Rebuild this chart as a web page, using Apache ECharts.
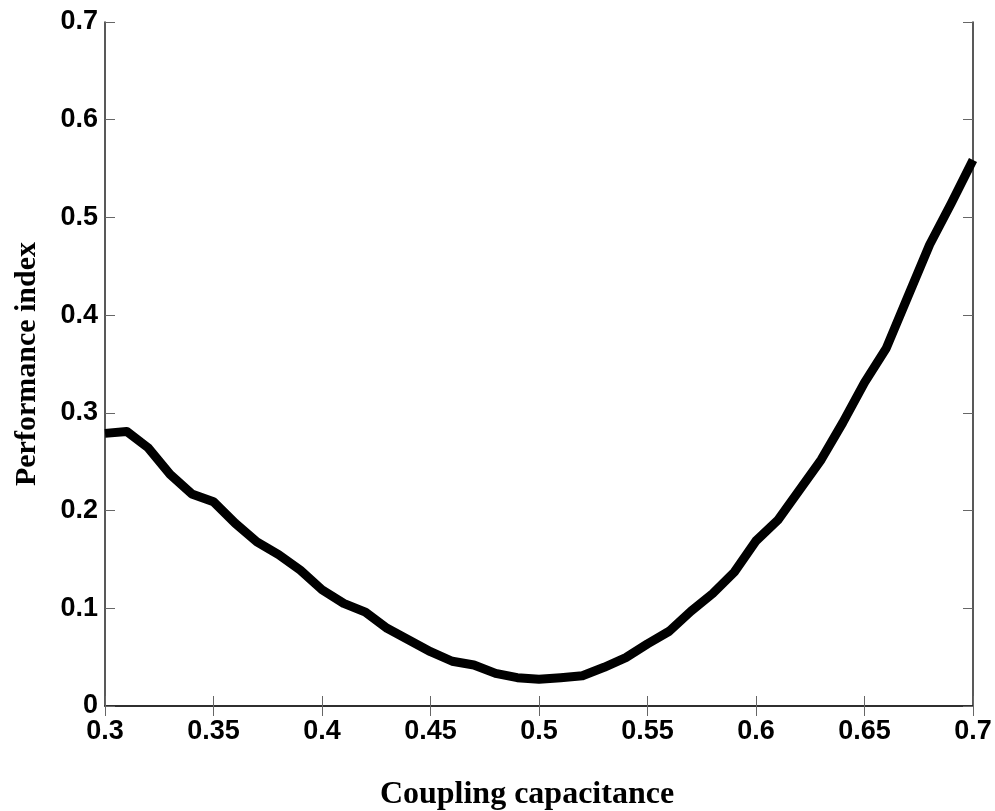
<!DOCTYPE html>
<html>
<head>
<meta charset="utf-8">
<script src="https://cdn.jsdelivr.net/npm/echarts@6/dist/echarts.min.js"></script>
<style>html,body{margin:0;padding:0;background:#fff}#c{width:995px;height:811px}</style>
</head>
<body>
<div id="c"></div>
<script>
const xValues = [0.30,0.31,0.32,0.33,0.34,0.35,0.36,0.37,0.38,0.39,0.40,0.41,0.42,0.43,0.44,0.45,0.46,0.47,0.48,0.49,0.50,0.51,0.52,0.53,0.54,0.55,0.56,0.57,0.58,0.59,0.60,0.61,0.62,0.63,0.64,0.65,0.66,0.67,0.68,0.69,0.70];
const performance = [0.279,0.281,0.264,0.237,0.217,0.209,0.187,0.168,0.155,0.139,0.119,0.105,0.096,0.0795,0.0675,0.0556,0.0458,0.042,0.0334,0.029,0.0273,0.029,0.031,0.0396,0.0495,0.0636,0.0765,0.097,0.115,0.137,0.169,0.190,0.221,0.252,0.290,0.331,0.366,0.419,0.472,0.5145,0.5588];
const xName = 'Coupling capacitance';
const yName = 'Performance index';

const chart = echarts.init(document.getElementById('c'), null, {renderer: 'canvas'});
const fmt = v => String(parseFloat(v.toFixed(2)));
const labelStyle = {fontFamily: 'Liberation Sans', fontWeight: 'bold', fontSize: 27, color: '#000'};
const yNameStyle = {fontFamily: 'Liberation Serif', fontWeight: 'bold', fontSize: 30, color: '#000'};
const xNameStyle = {fontFamily: 'Liberation Serif', fontWeight: 'bold', fontSize: 32, color: '#000', padding: [0, 24, 0, 0]};
const lineStyleAxis = {color: '#222', width: 1.5};
const tickStyle = {inside: true, length: 10, lineStyle: {color: '#666', width: 1}};

chart.setOption({
  animation: false,
  backgroundColor: '#fff',
  grid: {left: 105, right: 22, top: 22, bottom: 105, containLabel: false, outerBoundsMode: 'none'},
  xAxis: [
    {type: 'value', min: 0.3, max: 0.7, interval: 0.05, position: 'bottom',
     name: xName, nameLocation: 'middle', nameGap: 73, nameTextStyle: xNameStyle,
     axisLine: {show: true, lineStyle: lineStyleAxis}, axisTick: tickStyle,
     axisLabel: Object.assign({margin: 12, formatter: fmt}, labelStyle),
     splitLine: {show: false}},
    {type: 'value', min: 0.3, max: 0.7, interval: 0.05, position: 'top',
     axisLine: {show: true, lineStyle: lineStyleAxis}, axisTick: tickStyle,
     axisLabel: {show: false}, splitLine: {show: false}}
  ],
  yAxis: [
    {type: 'value', min: 0, max: 0.7, interval: 0.1, position: 'left',
     name: yName, nameLocation: 'middle', nameGap: 63, nameTextStyle: yNameStyle,
     axisLine: {show: true, lineStyle: lineStyleAxis}, axisTick: tickStyle,
     axisLabel: Object.assign({margin: 7, formatter: fmt}, labelStyle),
     splitLine: {show: false}},
    {type: 'value', min: 0, max: 0.7, interval: 0.1, position: 'right',
     axisLine: {show: true, lineStyle: lineStyleAxis}, axisTick: tickStyle,
     axisLabel: {show: false}, splitLine: {show: false}}
  ],
  series: [{
    type: 'line',
    data: xValues.map((x, i) => [x, performance[i]]),
    showSymbol: false,
    lineStyle: {color: '#000', width: 9, join: 'round', cap: 'butt'},
    clip: true
  }]
});
</script>
</body>
</html>
